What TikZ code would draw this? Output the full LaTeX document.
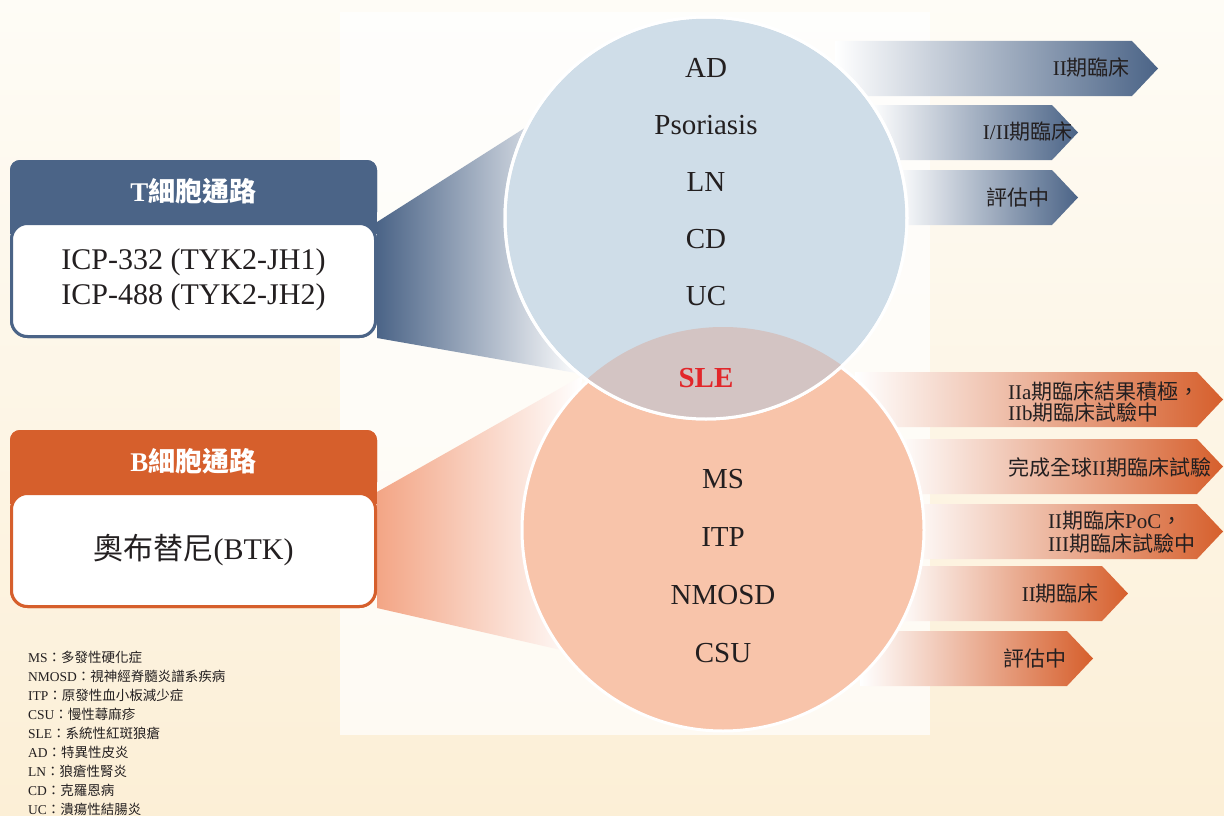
\documentclass[tikz,border=0pt]{standalone}
\usepackage{fontspec}
\setmainfont{Liberation Serif}
\newfontfamily\cjkfont{Noto Sans CJK TC}
\newcommand{\zh}[1]{{\cjkfont #1}}
\usepackage{xcolor}
\usetikzlibrary{positioning}
\usetikzlibrary{calc}

\definecolor{tblue}{HTML}{4B6487}
\definecolor{borange}{HTML}{D65F2C}
\definecolor{tcircfill}{HTML}{CFDDE8}
\definecolor{bcircfill}{HTML}{F8C4AA}
\definecolor{slefill}{HTML}{D3C4C3}
\definecolor{slered}{HTML}{E2262A}
\definecolor{inktext}{HTML}{231F20}
\definecolor{bgtop}{HTML}{FEFCF6}
\definecolor{bgbot}{HTML}{FCEFD6}
\definecolor{bfunnel}{HTML}{F3A585}

\tikzset{
  dis/.style={text=inktext, font=\fontsize{29}{32}\selectfont, inner sep=0pt, text height=19pt, text depth=0pt},
  phase/.style={text=inktext, font=\fontsize{21}{21}\selectfont, inner sep=0pt, align=left},
  legend/.style={text=inktext, font=\fontsize{13.5}{15}\selectfont, anchor=west, inner sep=0pt},
  headbox/.style={rounded corners=10pt, minimum width=367pt, minimum height=62pt, text=white, font=\fontsize{27}{30}\selectfont\bfseries, inner sep=0pt},
  drugbox/.style={draw, line width=3pt, fill=white, rounded corners=16pt, minimum width=364pt, minimum height=113pt, text=inktext, font=\fontsize{30}{35}\selectfont, align=center, inner sep=0pt},
  bigcirc/.style={circle, minimum size=402pt, draw=white, line width=3pt, inner sep=0pt},
}

\begin{document}
\begin{tikzpicture}[x=1pt,y=-1pt]
\useasboundingbox (0,0) rectangle (1224,816);

% Background
\shade[top color=bgtop, bottom color=bgbot] (0,0) rectangle (1224,816);
\fill[white, opacity=0.7] (340,12) rectangle (930,735);

% Left boxes (placed first so the funnels can use them)
\node[headbox, fill=tblue] (thead) at (193.5,191) {T\zh{細胞通路}};
\fill[tblue] (thead.west) rectangle ($(thead.south east)+(0,12)$);
\node[drugbox, draw=tblue] (tdrug) at (193.5,280) {ICP-332 (TYK2-JH1)\\ICP-488 (TYK2-JH2)};

\node[headbox, fill=borange] (bhead) at (193.5,461) {B\zh{細胞通路}};
\fill[borange] (bhead.west) rectangle ($(bhead.south east)+(0,12)$);
\node[drugbox, draw=borange] (bdrug) at (193.5,550) {\zh{奧布替尼}(BTK)};

% Funnels towards the circles
\shade[left color=tblue, right color=white] (tdrug.north east) -- (575,96) -- (582,374) -- (tdrug.south east) -- cycle;
\shade[left color=bfunnel, right color=white] (bdrug.north east) -- (582,376) -- (570,652) -- (bdrug.south east) -- cycle;

% Boxes again on top of the funnels
\node[headbox, fill=tblue] at (thead) {T\zh{細胞通路}};
\node[drugbox, draw=tblue] at (tdrug) {ICP-332 (TYK2-JH1)\\ICP-488 (TYK2-JH2)};
\node[headbox, fill=borange] at (bhead) {B\zh{細胞通路}};
\node[drugbox, draw=borange] at (bdrug) {\zh{奧布替尼}(BTK)};

% Phase arrows
\foreach \xs/\yt/\xt in {835/41/1158, 870/105/1078, 895/170/1078}
{
    \shade[left color=white, right color=tblue] (\xs,\yt) -- (\xt-26,\yt) -- (\xt,\yt+27.5) -- (\xt-26,\yt+55) -- (\xs,\yt+55) -- cycle;
}
\foreach \xs/\yt/\xt in {855/372/1223, 895/439/1223, 905/504/1223, 895/566/1128, 860/631/1093}
{
    \shade[left color=white, right color=borange] (\xs,\yt) -- (\xt-26,\yt) -- (\xt,\yt+27.5) -- (\xt-26,\yt+55) -- (\xs,\yt+55) -- cycle;
}

% Circles
\node[bigcirc, fill=bcircfill] (bcirc) at (723,530) {};
\node[bigcirc, fill=tcircfill] (tcirc) at (706,218) {};
\begin{scope}
    \clip (tcirc.center) circle[radius=201];
    \fill[slefill] (bcirc.center) circle[radius=203];
\end{scope}
\draw[white, line width=3pt] (tcirc.center) circle[radius=201];

% Diseases
\foreach \lbl [count=\i] in {AD,Psoriasis,LN,CD,UC}
    \node[dis] (tdis\i) at (706,{11+57*\i}) {\lbl};
\node[dis, text=slered, font=\fontsize{29}{32}\selectfont\bfseries] (sle) at (706,378) {SLE};
\foreach \lbl [count=\i] in {MS,ITP,NMOSD,CSU}
    \node[dis] (bdis\i) at (723,{421+58*\i}) {\lbl};

% Phase labels
\node[phase, anchor=east] (tph1) at (1130,68) {II\zh{期臨床}};
\node[phase, anchor=east] (tph2) at (1073,132) {I/II\zh{期臨床}};
\node[phase, anchor=east] (tph3) at (1050,197) {\zh{評估中}};
\node[phase, anchor=west] (bph1) at (1008,402) {IIa\zh{期臨床結果積極，}\\IIb\zh{期臨床試驗中}};
\node[phase, anchor=west] (bph2) at (1008,467) {\zh{完成全球}II\zh{期臨床試驗}};
\node[phase, anchor=west, font=\fontsize{21}{23}\selectfont] (bph3) at (1048,532) {II\zh{期臨床}PoC\zh{，}\\III\zh{期臨床試驗中}};
\node[phase, anchor=east] (bph4) at (1099,594) {II\zh{期臨床}};
\node[phase] (bph5) at (1035,658) {\zh{評估中}};

% Legend
\foreach \abbr/\desc [count=\i] in {MS/多發性硬化症, NMOSD/視神經脊髓炎譜系疾病, ITP/原發性血小板減少症, CSU/慢性蕁麻疹, SLE/系統性紅斑狼瘡, AD/特異性皮炎, LN/狼瘡性腎炎, CD/克羅恩病, UC/潰瘍性結腸炎}
    \node[legend] (leg\i) at (28,{638+19*\i}) {\abbr\zh{：\desc}};
\end{tikzpicture}
\end{document}
